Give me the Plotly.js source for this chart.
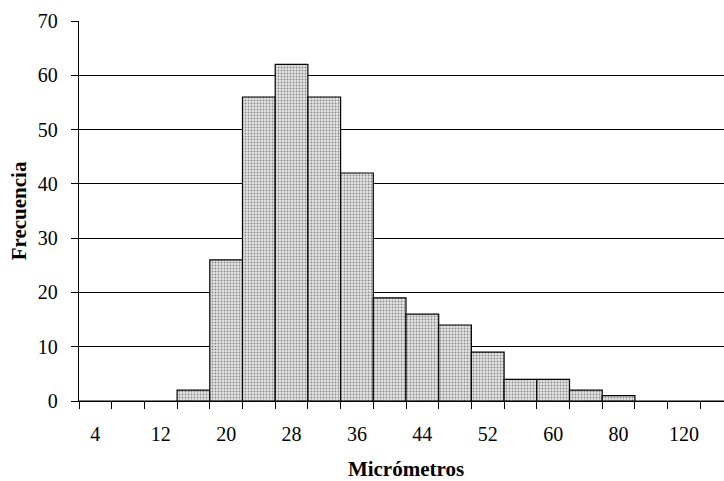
<!DOCTYPE html>
<html>
<head>
<meta charset="utf-8">
<script src="https://cdn.plot.ly/plotly-3.0.1.min.js"></script>
<style>
html,body{margin:0;padding:0;overflow:hidden;background:#fff;width:724px;height:481px;}
#chart{width:740px;height:481px;}
</style>
</head>
<body>
<div id="chart"></div>
<script>
// bin categories (micrometres)
const categories = ['4','8','12','16','20','24','28','32','36','40','44','48','52','56','60','70','80','100','120','Más'];
// frequencies
const frequencies = [0,0,0,2,26,56,62,56,42,19,16,14,9,4,4,2,1,0,0,0];
// labels shown on the axis
const tickLabels = ['4','','12','','20','','28','','36','','44','','52','','60','','80','','120',''];
const yTicks = [0,10,20,30,40,50,60,70];

const font = 'Liberation Serif, Times New Roman, serif';

const trace = {
  type: 'bar',
  x: categories,
  y: frequencies,
  marker: {
    color: '#d0d0d0',
    line: {color: '#000', width: 1.2},
    pattern: {shape: '.', fgcolor: '#8a8a8a', bgcolor: '#e4e4e4', size: 3, solidity: 0.3, fillmode: 'replace'}
  },
  hoverinfo: 'skip'
};

const layout = {
  width: 740, height: 481,
  margin: {l: 79, r: 7, t: 21, b: 80},
  paper_bgcolor: '#fff', plot_bgcolor: '#fff',
  bargap: 0,
  showlegend: false,
  font: {family: font, size: 20, color: '#000'},
  xaxis: {
    type: 'category',
    categoryorder: 'array', categoryarray: categories,
    tickmode: 'array', tickvals: categories, ticktext: tickLabels,
    tickson: 'boundaries', tickangle: 0,
    ticks: 'outside', ticklen: 7, tickwidth: 1, tickcolor: '#000',
    showline: true, linecolor: '#000', linewidth: 1.2,
    showgrid: false, zeroline: false,
    ticklabelstandoff: 15,
    tickfont: {family: font, size: 20},
    title: {text: 'Micrómetros', font: {family: font, size: 21, weight: 'bold'}, standoff: 22}
  },
  yaxis: {
    range: [0, 70],
    tickmode: 'array', tickvals: yTicks,
    ticks: 'outside', ticklen: 7, tickwidth: 1, tickcolor: '#000',
    showline: true, linecolor: '#000', linewidth: 1.2,
    showgrid: true, gridcolor: '#000', gridwidth: 1,
    zeroline: false,
    ticklabelstandoff: 9,
    tickfont: {family: font, size: 20},
    title: {text: 'Frecuencia', font: {family: font, size: 21, weight: 'bold'}, standoff: 5}
  }
};

Plotly.newPlot('chart', [trace], layout, {displayModeBar: false, staticPlot: true});
</script>
</body>
</html>
